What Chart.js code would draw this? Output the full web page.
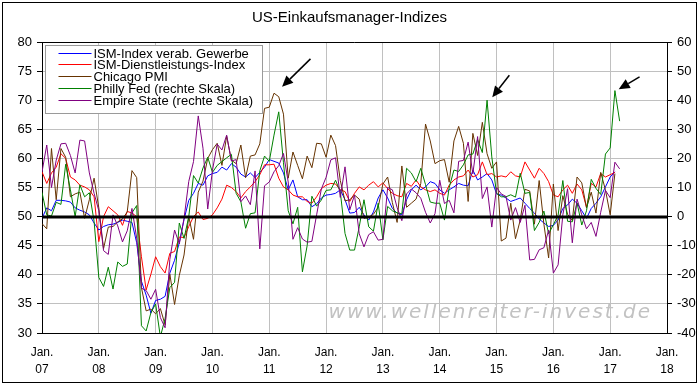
<!DOCTYPE html>
<html>
<head>
<meta charset="utf-8">
<title>US-Einkaufsmanager-Indizes</title>
<script src="https://cdn.jsdelivr.net/npm/chart.js@4.4.1/dist/chart.umd.min.js"></script>
<style>
  html, body { margin: 0; padding: 0; background: #fff; }
  #chart { display: block; }
</style>
</head>
<body>
<canvas id="chart" width="699" height="385"></canvas>
<script>
// monthly values starting Jan. 2007, index 0 = Jan. 07
const yearLabels = ['07', '08', '09', '10', '11', '12', '13', '14', '15', '16', '17', '18'];

const seriesNames = [
    'ISM-Index verab. Gewerbe',
    'ISM-Dienstleistungs-Index',
    'Chicago PMI',
    'Philly Fed (rechte Skala)',
    'Empire State (rechte Skala)'
];
const seriesColors = ['#0000ff', '#ff0000', '#663300', '#008000', '#800080'];

// left scale
const ismManufacturing = [
    49.7, 51.5, 51.0, 52.8, 52.8, 52.7, 52.5, 51.5, 51.1, 50.8, 50.3, 48.9,
    47.7, 48.3, 48.6, 48.7, 49.0, 49.4, 49.2, 49.0, 45.5, 38.9, 36.5, 33.4,
    35.6, 35.8, 36.3, 40.3, 42.5, 45.5, 49.5, 52.8, 54.0, 55.7, 55.4, 57.0,
    57.4, 57.6, 58.5, 58.0, 59.1, 58.5, 57.3, 56.8, 57.5, 56.7, 57.6, 58.5,
    59.8, 59.5, 59.2, 57.5, 54.6, 56.3, 53.4, 52.9, 52.9, 51.7, 52.2, 53.2,
    53.7, 53.8, 54.0, 54.6, 52.9, 50.6, 50.7, 51.6, 50.3, 49.4, 50.8, 53.2,
    54.6, 53.2, 51.4, 50.6, 50.3, 52.9, 54.6, 55.4, 54.6, 55.1, 56.0, 55.7,
    54.6, 54.0, 54.6, 55.1, 55.7, 55.4, 55.3, 58.0, 56.3, 56.8, 57.4, 56.3,
    53.9, 53.7, 53.2, 52.6, 52.9, 53.2, 52.3, 51.4, 50.6, 49.6, 48.9, 48.3,
    48.5, 49.4, 51.4, 52.0, 53.0, 52.3, 51.0, 49.7, 51.4, 52.3, 53.4, 55.1,
    56.8, 57.7
];
const ismServices = [
    57.7, 55.7, 57.5, 58.5, 60.8, 60.0, 56.8, 56.3, 55.4, 55.1, 54.6, 53.4,
    45.7, 50.0, 51.7, 51.0, 50.3, 48.5, 50.9, 50.6, 50.0, 43.1, 37.4, 40.1,
    43.1, 41.4, 40.3, 43.7, 44.0, 46.5, 46.4, 48.3, 50.0, 50.8, 49.5, 49.7,
    50.3, 51.5, 53.0, 55.4, 55.0, 54.3, 53.2, 54.3, 55.1, 56.0, 57.2, 58.9,
    58.9, 59.0, 56.6, 55.1, 54.6, 53.7, 53.4, 53.4, 52.6, 52.3, 53.4, 54.8,
    55.4, 55.7, 55.6, 54.6, 54.3, 52.6, 54.0, 55.1, 54.6, 55.4, 56.0, 55.1,
    55.8, 54.8, 54.0, 53.6, 53.4, 55.7, 55.2, 56.3, 55.1, 54.6, 54.3, 54.6,
    54.0, 53.7, 55.4, 56.3, 56.8, 57.0, 58.0, 56.8, 57.2, 59.4, 57.2, 57.4,
    56.8, 57.0, 56.8, 57.7, 57.0, 56.8, 59.4, 58.0, 56.6, 58.3, 57.4, 56.0,
    53.7, 53.4, 54.6, 55.4, 54.0, 55.6, 54.6, 51.6, 55.7, 55.1, 57.4, 56.8,
    57.2, 57.6
];
const chicagoPmi = [
    48.8, 47.9, 61.7, 52.9, 61.7, 60.2, 53.4, 53.9, 54.2, 49.7, 52.9, 56.6,
    51.5, 44.5, 48.2, 48.3, 49.1, 49.6, 50.8, 57.9, 56.7, 37.8, 33.8, 34.1,
    33.3, 34.2, 31.4, 40.1, 34.9, 39.9, 43.4, 50.0, 46.1, 54.2, 56.1, 60.0,
    61.5, 62.6, 58.8, 63.8, 59.7, 59.1, 62.3, 56.7, 60.4, 60.6, 62.5, 68.6,
    68.8, 71.2, 70.6, 67.6, 56.6, 61.1, 58.8, 56.5, 60.4, 58.4, 62.6, 62.5,
    60.2, 64.0, 62.2, 56.2, 52.7, 52.9, 53.7, 53.0, 49.7, 49.9, 50.4, 51.6,
    55.6, 56.8, 52.4, 49.0, 58.7, 51.6, 52.3, 53.0, 55.7, 65.9, 63.0, 59.1,
    59.6, 59.8, 55.9, 63.0, 65.5, 62.6, 52.6, 64.3, 60.5, 66.2, 60.8, 58.3,
    59.4, 45.8, 46.3, 52.3, 46.2, 49.4, 54.7, 54.4, 48.7, 56.2, 48.7, 42.9,
    55.6, 47.6, 53.6, 50.4, 49.3, 56.8, 55.8, 51.5, 54.2, 50.6, 57.6, 54.6,
    50.3, 57.4
];

// right scale
const phillyFed = [
    8.3, 0.6, 0.2, 4.9, 4.2, 18.0, 9.2, 0.0, 10.9, 6.8, 8.2, -1.6,
    -20.9, -24.0, -17.4, -24.9, -15.6, -17.1, -16.3, 1.3, 3.8, -37.5, -39.3, -33.0,
    -30.0, -41.3, -35.0, -24.4, -22.6, -2.2, -7.5, 0.0, 14.1, 11.5, 16.7, 20.4,
    15.2, 17.6, 18.9, 20.2, 21.4, 8.0, 5.1, -4.0, 1.0, 1.3, 15.7, 20.8,
    19.0, 28.0, 36.0, 18.5, 2.0, -2.5, 3.2, -19.0, -10.0, 7.0, 3.6, 5.7,
    9.0, 9.2, 12.5, 8.5, -5.8, -11.5, -11.5, -3.5, 5.8, -3.5, -5.0, 4.6,
    -8.0, 3.5, 2.0, 1.3, 1.0, 16.6, 15.0, 12.0, 16.6, 11.0, 5.0, 4.6,
    4.6, -1.2, 10.0, 16.0, 15.5, 17.8, 21.2, 21.5, 26.5, 22.0, 40.0, 20.5,
    8.0, 6.8, 6.8, 7.5, 6.7, 14.9, 8.0, 8.3, -4.8, -2.0, 1.9, -5.9,
    -2.8, 0.5, 12.4, -1.6, -1.8, 4.7, -2.9, 2.0, 12.8, 9.7, 7.6, 21.5,
    23.6, 43.3, 32.8
];
const empireState = [
    15.3, 24.6, 10.0, 19.4, 25.0, 25.2, 21.0, 15.0, 26.3, 26.0, 15.0, 8.0,
    2.0, -11.7, -13.0, 0.6, -3.2, -8.7, -4.9, 2.8, -7.4, -24.6, -25.4, -28.4,
    -25.0, -34.7, -38.2, -14.7, -4.6, -9.4, -0.6, 12.1, 18.9, 34.6, 23.5, 2.6,
    15.9, 24.9, 22.9, 28.0, 19.1, 19.6, 5.1, 7.1, 4.1, 15.7, -11.1, 10.6,
    11.9, 15.4, 17.5, 21.7, 11.9, -7.8, -3.8, -7.7, -8.8, -8.5, 0.6, 9.5,
    13.5, 19.5, 20.2, 6.6, 17.1, 2.3, 7.4, -5.9, -10.4, -6.2, -5.2, -8.1,
    -7.8, 10.0, 9.2, 3.1, -1.4, 7.8, 9.5, 8.2, 6.3, 1.5, -2.2, 1.0,
    12.5, 4.5, 5.6, 1.3, 19.0, 19.3, 25.6, 14.7, 27.5, 6.2, 10.2, -3.6,
    10.0, 7.8, 6.9, -1.2, 3.1, -2.0, 3.9, -14.9, -14.7, -11.4, -10.7, -4.6,
    -19.4, -16.6, 0.6, 9.6, -9.0, 6.0, 0.6, -4.2, -2.0, -6.8, 1.5, 9.0,
    6.5, 18.7, 16.4
];

// arrows: [month from, left value from, month to, left value to]
const arrows = [
    [56.7, 77.1, 50.7, 72.3],
    [98.7, 74.3, 95.1, 70.5],
    [126.2, 74.0, 121.8, 71.9]
];
const watermark = 'www.wellenreiter-invest.de';

Chart.defaults.font.family = '"Liberation Sans", Arial, sans-serif';
Chart.defaults.color = '#000';

function toPoints(values) {
    return values.map((v, i) => ({ x: i, y: v }));
}

const allSeries = [ismManufacturing, ismServices, chicagoPmi, phillyFed, empireState];
const datasets = allSeries.map((values, i) => ({
    label: seriesNames[i],
    data: toPoints(values),
    borderColor: seriesColors[i],
    backgroundColor: seriesColors[i],
    borderWidth: 1,
    pointRadius: 0,
    tension: 0,
    yAxisID: i < 3 ? 'yL' : 'yR',
    order: 5 - i
}));

// extra drawing: watermark, zero line, legend box, arrows, frame
const extrasPlugin = {
    id: 'extras',
    beforeDatasetsDraw(chart) {
        const { ctx, chartArea } = chart;
        ctx.save();
        ctx.font = 'italic 20px "DejaVu Sans"';
        ctx.letterSpacing = '2px';
        ctx.fillStyle = '#c2c2c2';
        ctx.textAlign = 'right';
        ctx.textBaseline = 'alphabetic';
        ctx.fillText(watermark, chartArea.right - 15, chartArea.bottom - 15);
        ctx.restore();
    },
    afterDatasetsDraw(chart) {
        const { ctx, chartArea, scales } = chart;
        const yL = scales.yL, x = scales.x;

        // zero line of the right scale (= 50 left)
        const y0 = Math.round(yL.getPixelForValue(50));
        ctx.save();
        ctx.strokeStyle = '#000';
        ctx.lineWidth = 3;
        ctx.beginPath();
        ctx.moveTo(chartArea.left, y0);
        ctx.lineTo(chartArea.right, y0);
        ctx.stroke();

        // legend
        const bx = chartArea.left + 3.5, by = chartArea.top + 3.5;
        ctx.fillStyle = '#fff';
        ctx.fillRect(bx, by, 217, 68);
        ctx.strokeStyle = '#9a9a9a';
        ctx.lineWidth = 1;
        ctx.strokeRect(bx, by, 217, 68);
        ctx.font = '13px "Liberation Sans", Arial, sans-serif';
        ctx.textBaseline = 'middle';
        ctx.textAlign = 'left';
        chart.data.datasets.forEach((ds, i) => {
            const ry = Math.round(by + 7 + i * 11.9) + 0.5;
            ctx.strokeStyle = ds.borderColor;
            ctx.beginPath();
            ctx.moveTo(bx + 13, ry);
            ctx.lineTo(bx + 46, ry);
            ctx.stroke();
            ctx.fillStyle = '#000';
            ctx.fillText(ds.label, bx + 48, ry + 0.5);
        });

        // arrows
        ctx.strokeStyle = '#000';
        ctx.fillStyle = '#000';
        ctx.lineWidth = 1.5;
        arrows.forEach(a => {
            const x1 = x.getPixelForValue(a[0]), y1 = yL.getPixelForValue(a[1]);
            const x2 = x.getPixelForValue(a[2]), y2 = yL.getPixelForValue(a[3]);
            const ang = Math.atan2(y2 - y1, x2 - x1);
            const len = 11, half = 5;
            const bxh = x2 - len * Math.cos(ang), byh = y2 - len * Math.sin(ang);
            ctx.beginPath();
            ctx.moveTo(x1, y1);
            ctx.lineTo(bxh, byh);
            ctx.stroke();
            ctx.beginPath();
            ctx.moveTo(x2, y2);
            ctx.lineTo(bxh + half * Math.sin(ang), byh - half * Math.cos(ang));
            ctx.lineTo(bxh - half * Math.sin(ang), byh + half * Math.cos(ang));
            ctx.closePath();
            ctx.fill();
        });
        ctx.restore();
    },
    afterDraw(chart) {
        const { ctx, chartArea } = chart;
        ctx.save();
        ctx.strokeStyle = '#000';
        ctx.lineWidth = 1;
        // top border of plot area
        ctx.beginPath();
        ctx.moveTo(chartArea.left, Math.round(chartArea.top) + 0.5);
        ctx.lineTo(chartArea.right, Math.round(chartArea.top) + 0.5);
        ctx.stroke();
        // outer frame
        ctx.strokeRect(2.5, 2.5, 694, 380);
        ctx.restore();
    }
};

new Chart(document.getElementById('chart'), {
    type: 'line',
    data: { datasets },
    options: {
        responsive: false,
        animation: false,
        devicePixelRatio: 1,
        layout: { padding: { left: 0, right: 0, top: 0, bottom: 0 } },
        plugins: {
            legend: { display: false },
            tooltip: { enabled: false },
            title: {
                display: true,
                text: 'US-Einkaufsmanager-Indizes',
                color: '#000',
                font: { size: 15, weight: 'normal' },
                padding: { top: 9, bottom: 15 }
            }
        },
        scales: {
            x: {
                type: 'linear',
                min: 0,
                max: 132,
                afterFit: s => { s.height = 52; },
                grid: { color: '#c0c0c0', drawTicks: false },
                border: { color: '#000' },
                ticks: {
                    stepSize: 12,
                    autoSkip: false,
                    maxRotation: 0,
                    padding: 11,
                    font: { size: 12, lineHeight: 1.45 },
                    callback: v => ['Jan.', yearLabels[Math.round(v / 12)]]
                }
            },
            yL: {
                position: 'left',
                min: 30,
                max: 80,
                afterFit: s => { s.width = 42; },
                grid: { color: '#c0c0c0', tickColor: '#000', tickLength: 5, tickWidth: 1 },
                border: { color: '#000' },
                ticks: { stepSize: 5, padding: 5, font: { size: 13 } }
            },
            yR: {
                position: 'right',
                min: -40,
                max: 60,
                afterFit: s => { s.width = 32; },
                grid: { drawOnChartArea: false, tickColor: '#000', tickLength: 5, tickWidth: 1 },
                border: { color: '#000' },
                ticks: { stepSize: 10, padding: 5, font: { size: 13 } }
            }
        }
    },
    plugins: [extrasPlugin]
});
</script>
</body>
</html>
